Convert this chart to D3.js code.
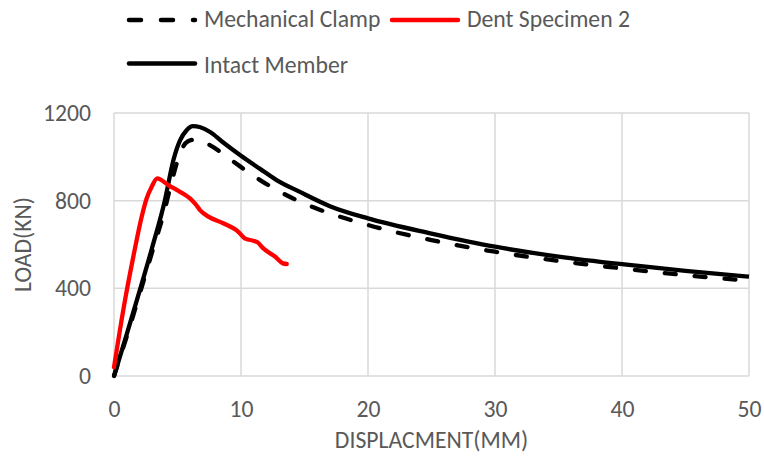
<!DOCTYPE html>
<html><head><meta charset="utf-8">
<script src="https://cdn.jsdelivr.net/npm/d3@7"></script>
<style>body{margin:0;background:#fff}svg{display:block}text{font-family:Carlito,Lato,sans-serif;fill:#595959}</style>
</head><body>
<svg id="c" width="764" height="459"></svg>
<script>
const xTicks = [0, 10, 20, 30, 40, 50];
const yTicks = [0, 400, 800, 1200];
const seriesNames = ["Mechanical Clamp", "Dent Specimen 2", "Intact Member"];
const intactX = [0, 1, 2, 3, 4, 4.7, 5.2, 5.7, 6.2, 6.8, 7.6, 8.5, 10, 11.5, 12.8, 14.6, 17, 20, 25, 30, 35, 40, 45, 50];
const intactY = [0, 190, 385, 585, 800, 990, 1075, 1120, 1140, 1135, 1112, 1070, 1005, 945, 894, 841, 775, 719, 650, 590, 545, 510, 480, 453];
const clampX = [0, 1, 2, 3, 4, 4.6, 5.3, 5.8, 6.5, 7.5, 9.4, 11.5, 14.1, 15.7, 20, 25, 30, 35, 40, 45, 50];
const clampY = [0, 180, 370, 565, 760, 900, 1030, 1070, 1080, 1055, 978, 894, 810, 770, 689, 620, 567, 525, 491, 460, 435];
const dentX = [0, 0.73, 1.52, 2.18, 2.57, 2.97, 3.41, 3.7, 4.28, 4.93, 5.5, 5.98, 6.4, 6.77, 7.43, 8.6, 9.79, 10.3, 10.97, 11.3, 11.76, 12.7, 13.3, 13.6];
const dentY = [40, 301, 544, 727, 810, 864, 902, 895, 871, 849, 830, 810, 785, 757, 727, 697, 658, 628, 617, 610, 582, 544, 514, 511];

const FS = "23.7px";
const svg = d3.select("#c");
const L = 114, R = 749, T = 113, B = 376;
const x = d3.scaleLinear().domain([0, 50]).range([L, R]);
const y = d3.scaleLinear().domain([0, 1200]).range([B, T]);

// grid
const g = svg.append("g");
g.selectAll("line.v").data(xTicks).join("line")
  .attr("x1", d => x(d)).attr("x2", d => x(d)).attr("y1", T).attr("y2", B)
  .attr("stroke", "#d9d9d9").attr("stroke-width", 1.5);
g.selectAll("line.h").data(yTicks).join("line")
  .attr("x1", L).attr("x2", R).attr("y1", d => y(d)).attr("y2", d => y(d))
  .attr("stroke", "#d9d9d9").attr("stroke-width", 1.5);

// axes (labels only)
const xa = svg.append("g").attr("transform", `translate(0,${B})`)
  .call(d3.axisBottom(x).tickValues(xTicks).tickSize(0).tickPadding(0).tickFormat(d3.format("d")));
xa.selectAll("text").attr("dy", null).attr("y", 40.7);
const ya = svg.append("g").attr("transform", `translate(${L},0)`)
  .call(d3.axisLeft(y).tickValues(yTicks).tickSize(0).tickPadding(23).tickFormat(d3.format("d")));
ya.selectAll("text").attr("dy", "0.31em");
[xa, ya].forEach(a => { a.select(".domain").remove(); a.selectAll("text").style("font-size", FS).attr("fill", "#595959").style("font-family", "Carlito,Lato,sans-serif"); });

svg.append("text").attr("x", (L + R) / 2).attr("y", 448.3).attr("text-anchor", "middle")
  .style("font-size", FS).text("DISPLACMENT(MM)");
svg.append("text").attr("transform", `translate(31,${(T + B) / 2}) rotate(-90)`).attr("text-anchor", "middle")
  .style("font-size", FS).text("LOAD(KN)");

const line = d3.line().x(d => x(d[0])).y(d => y(d[1])).curve(d3.curveMonotoneX);
const zip = (a, b) => a.map((v, i) => [v, b[i]]);

svg.append("path").datum(zip(intactX, intactY)).attr("d", line)
  .attr("fill", "none").attr("stroke", "#000").attr("stroke-width", 4.3).attr("stroke-linejoin", "round");
svg.append("path").datum(zip(clampX, clampY)).attr("d", line)
  .attr("fill", "none").attr("stroke", "#000").attr("stroke-width", 4.3)
  .attr("stroke-dasharray", "11,19").attr("stroke-linecap", "round");
svg.append("path").datum(zip(dentX, dentY)).attr("d", line)
  .attr("fill", "none").attr("stroke", "#ff0000").attr("stroke-width", 4.3).attr("stroke-linejoin", "round").attr("stroke-linecap", "round");

// legend
const leg = [
  {name: seriesNames[0], lx: 129, ly: 20, ty: 27.3, color: "#000", dash: "12,20"},
  {name: seriesNames[1], lx: 392, ly: 20, ty: 27.3, color: "#ff0000", dash: null},
  {name: seriesNames[2], lx: 129, ly: 63.5, ty: 72.7, color: "#000", dash: null}
];
leg.forEach(o => {
  const l = svg.append("line").attr("x1", o.lx).attr("x2", o.lx + 66).attr("y1", o.ly).attr("y2", o.ly)
    .attr("stroke", o.color).attr("stroke-width", 4.5).attr("stroke-linecap", "round");
  if (o.dash) l.attr("stroke-dasharray", o.dash);
  svg.append("text").attr("x", o.lx + 75).attr("y", o.ty)
    .style("font-size", FS).text(o.name);
});
</script>
</body></html>
